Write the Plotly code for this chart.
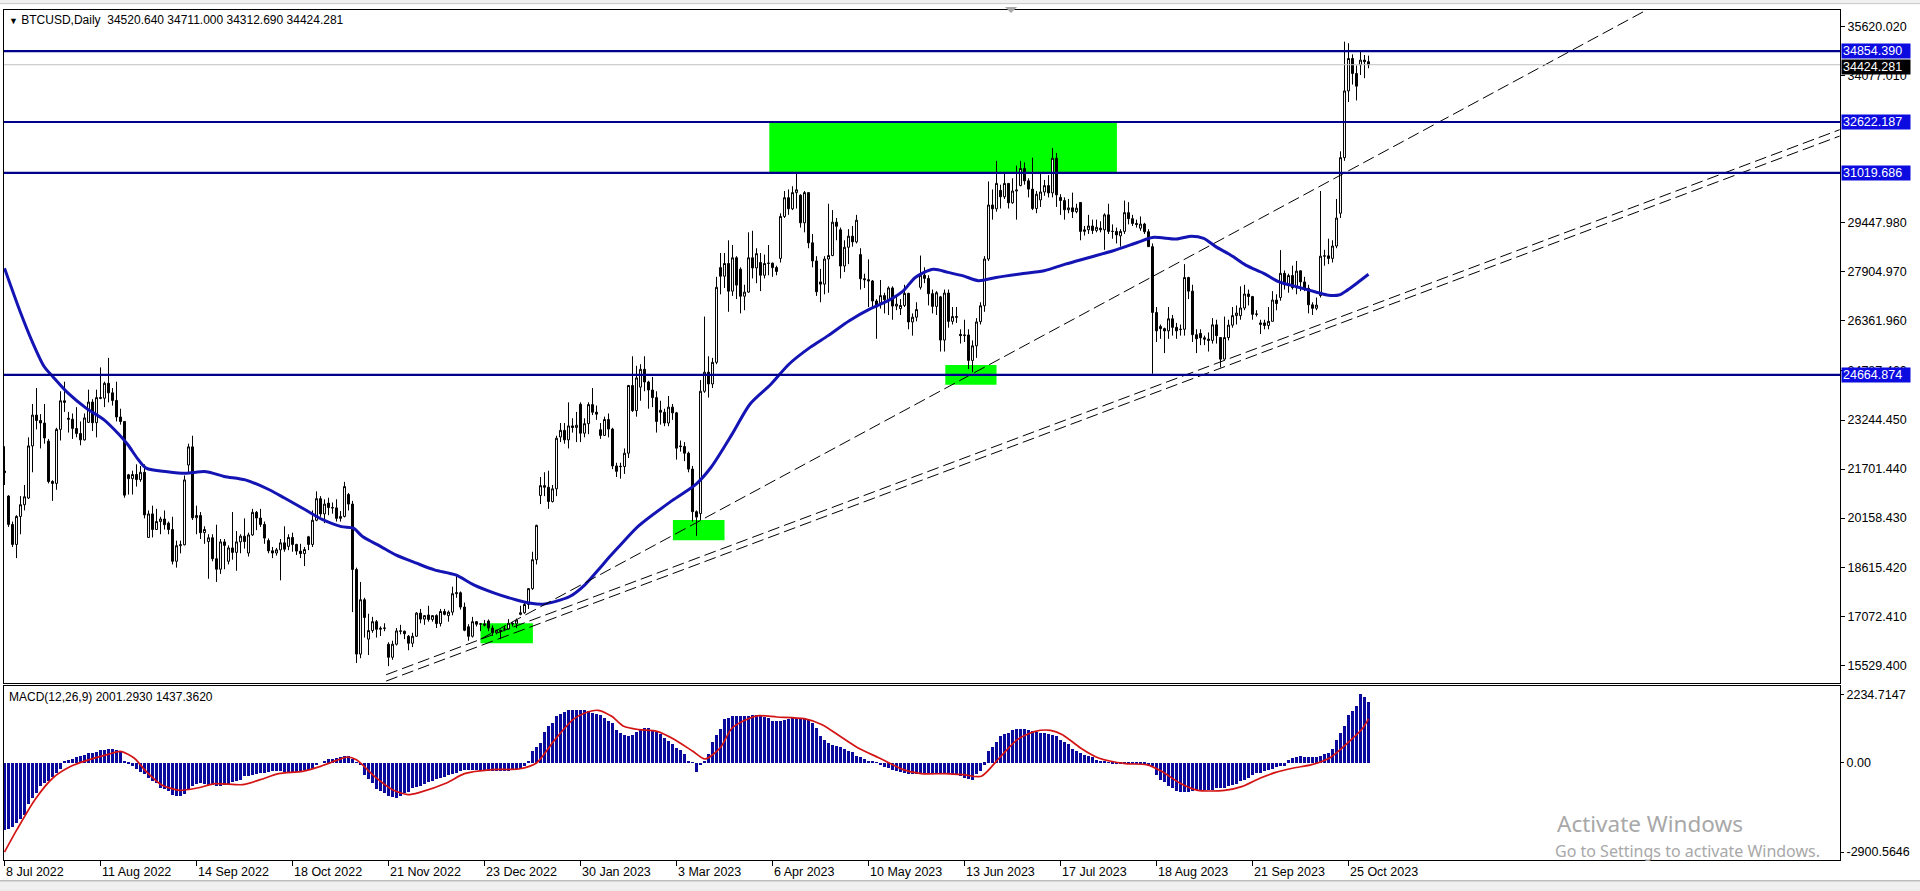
import plotly.graph_objects as go

# ---------------- data (one bar per trading weekday) ----------------
tick_bars = [0, 24, 48, 72, 96, 120, 144, 168, 192, 216, 240, 264, 288, 312, 336]
tick_labels = ["8 Jul 2022", "11 Aug 2022", "14 Sep 2022", "18 Oct 2022", "21 Nov 2022",
               "23 Dec 2022", "30 Jan 2023", "3 Mar 2023", "6 Apr 2023", "10 May 2023",
               "13 Jun 2023", "17 Jul 2023", "18 Aug 2023", "21 Sep 2023", "25 Oct 2023"]

opens = [
    21640,
    20850,19960,19330,20210,20580, 20790,22430,23400,23230,23150, 22580,21310,21250,22950,23850,
    23300,23270,22980,22820,22620, 23170,23810,23160,23950,23930, 24400,24100,23860,23340,23200,
    21520,21400,21530,21370,21600, 19550,20290,19800,20050,20130, 20000,19800,18800,19290,19320,
    21830,22400,20170,20240,19700, 19420,19540,18880,18550,19410, 18800,19220,19080,19410,19590,
    19060,19630,20340,20160,19960, 19450,19130,19060,19160,19380, 19270,19550,19330,19120,19040,
    19570,19330,20090,20770,20290, 20630,20490,20480,20150,20210, 20900,20600,18540,15880,17590,
    16350,16620,16900,16660,16690, 16190,15780,16190,16610,16600, 16440,16220,16440,17170,16980,
    17110,16970,17090,16840,17220, 17090,17200,17780,17810,17360, 16740,16440,16900,16820,16830,
    16920,16700,16550,16630, 16670,16670,16850,16830, 17130,17180,17440,17940,18850,
    20870,21180,21130,20680,21080, 22710,22920,22620,23060,23010, 23740,22830,23130,23730,23490,
    22940,22760,23260,22960,21800, 21790,21780,22200,24330,23540, 24280,24840,24440,24190,23950,
    23550,23490,23150,23650,23470, 22430,22410,22200,21700,20360, 20300,24150,24750,24380,25060,
    28040,27770,28170,27300,28350, 27990,27140,27270,28350,28030, 28200,27800,28170,28180,28040,
    28330,29650,30240,29890,30400, 30320,29450,30400,28820,28250, 27590,27520,28310,28420,29470,
    29230,28090,28680,29030,28850, 28450,27690,27660,27620,26990, 26930,27160,27030,27400,26830,
    26750,26850,27230,26330,26480, 27420,27800,27700,27220,26820, 27120,25760,27240,26350,26500,
    25940,25900,25920,25120,25580, 26340,26840,28310,30010,29890, 30470,30270,30690,30080,30450,
    30620,31160,30770,30510,29900, 30170,30420,30620,30390,31480, 30250,30150,29860,29920,29800,
    30090,29180,29230,29350,29210, 29280,29230,29700,29180,29180, 29040,29180,29770,29580,29430,
    29280,29410,29170,28700,26630, 26190,26120,26050,26430,26160, 26090,26100,27730,27300,25930,
    25970,25830,25790,25750,26240, 25840,25160,25840,26230,26530, 26530,26770,27210,27130,26570,
    26250,26300,26220,26350,27020, 27100,27860,27500,27790,27410, 27940,27590,27390,26870,26760,
    27160,28400,28410,28330,28720, 29750,31500,33600,34620,34150, 34420,34570,34520.64]

highs = [
    22420,
    20880,20050,20250,20850,21200, 22700,23750,24250,23430,23750, 22650,21350,23000,24150,24450,
    23500,23450,23650,23200,23450, 24200,23900,24200,24900,24450, 25200,24250,24450,23600,23200,
    21550,21650,21850,21800,21850, 20400,20550,20450,20200,20400, 20050,20200,19450,19450,21500,
    22500,22750,20550,20350,19900, 19650,19650,19950,19500,19500, 19300,20350,19750,19650,20150,
    19700,20450,20380,20450,20050, 19520,19250,19220,19500,19900, 19650,19700,19350,19350,19250,
    19600,20400,21000,20850,20750, 20800,20650,20750,20380,21300, 20950,20700,18600,18150,17650,
    17150,17050,16950,16750,16850, 16250,16300,16700,16800,16620, 16480,16550,17200,17300,17100,
    17400,17100,17130,17300,17300, 17250,18000,18400,17850,17500, 16820,17050,16920,16860,16950,
    16970,16780,16650,16650, 16770,16980,16880,17000, 17400,17500,17950,19100,19950,
    21450,21600,21650,21200,22750, 23150,23150,23800,23300,23500, 23800,23300,23800,24250,23700,
    23150,23350,23450,23000,21900, 21900,22350,24350,25250,24950, 25000,25250,24480,24600,24150,
    23850,23600,24000,23750,23500, 22600,22550,22250,21800,20400, 24500,26500,25250,25200,27750,
    28500,28500,28900,28750,28400, 28050,27500,29150,29200,28650, 28500,28450,28750,28200,28100,
    29750,30450,30500,30600,31000, 30350,30450,30400,29100,28400, 28000,28400,30050,29850,29600,
    29300,28900,29250,29350,29700, 28650,27850,28300,27650,27050, 27650,27250,27450,27450,27150,
    27050,27500,27250,26600,26950, 28420,28050,27800,27350,27300, 27150,27350,27350,26800,26800,
    26100,26400,26100,25750,26450, 26950,28400,30750,30500,31400, 30650,31000,30700,30850,31250,
    31400,31350,30850,31500,30450, 31050,30800,30950,31800,31650, 30350,30250,30200,30400,30050,
    30100,29350,29700,29550,29550, 29500,29750,30050,29400,29300, 29250,30150,30100,29700,29550,
    29650,29450,29250,28800,26800, 26250,26150,26800,26550,26300, 26250,28150,27750,27500,26100,
    26100,25900,26000,26450,26400, 25850,26500,26400,26800,26850, 27450,27500,27350,27150,26700,
    26400,26400,26800,27300,27200, 28590,27950,27850,28100,28250, 27950,27750,27500,26950,27100,
    30450,28600,28950,28900,30200, 31700,35150,35100,34750,34400, 34830,34730,34711.0]

lows = [
    21200,
    19880,19250,18900,19650,20400, 20760,21600,22950,22350,22500, 21250,20700,21050,22600,23500,
    22850,22650,22700,22450,22600, 23150,22900,22700,23900,23650, 23800,23700,23200,23100,20800,
    20900,20900,21150,21300,20150, 19550,19550,19800,19650,19800, 19650,18700,18600,19050,19300,
    21600,20100,19650,19500,19350, 18250,18800,18150,18400,18550, 18700,18850,18500,19050,19200,
    18950,19600,19780,19880,19350, 19050,18900,18980,18200,19100, 19150,19100,19000,18900,18650,
    19150,19250,20060,20200,20000, 20250,20300,20050,20050,20180, 20400,17200,15600,15750,16400,
    15850,16550,16400,16450,16600, 15500,15700,16150,16500,16350, 16000,16100,16430,16850,16800,
    16900,16900,16700,16750,17100, 16900,17100,17650,17280,16600, 16300,16400,16750,16600,16750,
    16600,16450,16500,16350, 16600,16650,16750,16700, 17100,17150,17300,17900,18700,
    20600,20850,20450,20650,20850, 22550,22500,22350,22850,22550, 22550,22700,22800,23400,23250,
    22650,22750,22700,21700,21450, 21400,21550,22050,23500,23350, 23850,24150,23600,23650,22850,
    23100,23050,23050,23250,22000, 22250,21950,21600,20050,19600, 20100,24100,23950,24250,25000,
    27200,27400,26650,27150,27050, 26600,26700,27250,27700,27550, 27300,27700,27800,27750,27800,
    28200,29600,29700,29850,29900, 29300,29150,28650,28050,27150, 26950,27200,27250,28400,28900,
    27700,27900,28150,28700,28800, 27350,27400,26800,26750,25800, 26750,26600,26550,26400,26700,
    26550,26800,26100,25900,26350, 27350,27550,26850,26600,26550, 25400,25400,26150,26250,26300,
    25650,25700,24850,24750,25200, 26250,26650,28250,29550,29800, 29900,30200,29900,30050,29550,
    30600,30650,30250,29850,29750, 29950,30300,30250,30250,29950, 29700,29550,29750,29600,29750,
    28900,29050,29100,29100,29150, 29150,28600,29100,28950,28800, 28700,29100,29400,29350,29300,
    29200,29100,28700,24700,25700, 25800,25350,25800,25900,25800, 25900,25900,27050,25700,25350,
    25600,25600,25400,25650,25650, 24900,25150,25750,26150,26250, 26400,26700,26850,26400,26500,
    25950,26100,26100,26350,26700, 27000,27350,27250,27350,27200, 27300,27300,26600,26550,26700,
    27100,28100,28150,28200,28650, 29600,31400,33250,33800,33300, 34100,34000,34312.69]

closes = [
    21590,
    19960,19330,20210,20580,20830, 22430,23400,23230,23150,22680, 21310,21250,22950,23850,23800,
    23270,22980,22820,22620,23310, 23810,23160,23950,23930,24400, 24100,23860,23340,23200,20880,
    21400,21530,21370,21600,20260, 20290,19800,20050,20130,19950, 19800,18800,19290,19320,21360,
    22400,20170,20240,19700,19800, 19540,18880,18550,19410,19300, 19220,19080,19410,19590,19420,
    19630,20340,20160,19960,19530, 19130,19060,19160,19380,19180, 19550,19330,19120,19040,19170,
    19330,20090,20770,20290,20600, 20490,20480,20150,20210,21150, 20600,18540,15880,17590,17030,
    16620,16900,16660,16690,16700, 15780,16190,16610,16600,16520, 16220,16440,17170,16980,17090,
    16970,17090,16840,17220,17130, 17200,17780,17810,17360,16630, 16440,16900,16820,16830,16790,
    16700,16550,16630,16600, 16670,16850,16830,16950, 17180,17440,17940,18850,19930,
    21180,21130,20680,21080,22670, 22920,22620,23060,23010,23080, 22830,23130,23730,23490,23430,
    22760,23260,22960,21800,21630, 21780,22200,24330,23540,24570, 24840,24440,24190,23950,23200,
    23490,23150,23650,23470,22360, 22410,22200,21700,20360,20190, 24150,24750,24380,25060,27420,
    27770,28170,27300,28350,27490, 27140,27270,28350,28030,28480, 27800,28170,28180,28040,27920,
    29650,30240,29890,30400,30490, 29450,30400,28820,28250,27280, 27520,28310,28420,29470,29340,
    28090,28680,29030,28850,29530, 27690,27660,27620,26990,26800, 27160,27030,27400,26830,26890,
    26850,27230,26330,26480,26720, 27800,27700,27220,26820,27250, 25760,27240,26350,26500,26480,
    25900,25920,25120,25580,26330, 26840,28310,30010,29890,30690, 30270,30690,30080,30450,30480,
    31160,30770,30510,29900,30350, 30420,30620,30390,31480,30330, 30150,29860,29920,29800,29910,
    29180,29230,29350,29210,29310, 29230,29700,29180,29180,29070, 29180,29770,29580,29430,29400,
    29410,29170,28700,26630,26050, 26120,26050,26430,26160,26050, 26100,27730,27300,25930,25800,
    25830,25790,25750,26240,25900, 25160,25840,26230,26530,26610, 26770,27210,27130,26570,26580,
    26300,26220,26350,27020,26910, 27860,27500,27790,27410,27930, 27590,27390,26870,26760,26860,
    28400,28410,28330,28720,29600, 31500,33600,34620,34150,33750, 34570,34520,34424.281]

# moving average (blue line), read at sample bars
ma_bars = [0,3.9,6.9,9.9,12.1,15.9,20.4,24.9,28.7,30.9,33.2,35.4,40.7,45.2,50.4,54.9,60.2,66.2,
           70,75.2,79.7,84.2,87.2,89.5,94,97.8,103,107.5,112.8,117.3,122.5,127.8,131.6,134.6,
           137.6,141.3,145.1,148.8,151.1,154.1,158.6,166.8,172.9,176.6,181.9,186.4,191.6,196.1,
           201.4,205.9,211.2,216.4,220.9,224.7,227.7,232.2,235.9,239.7,243.5,247.9,253.9,259.9,
           265.2,271.2,277.2,283.2,287,293,296.8,299.8,302.8,306.5,310.3,314.8,318.5,323,327.6,
           330.6,333.6,335.8,338.1,341]
ma_vals = [28020,26660,25720,24930,24610,24090,23620,23250,22780,22460,22040,21730,21620,21570,
           21620,21470,21360,21050,20790,20420,20100,19890,19840,19580,19270,19000,18740,18530,
           18370,18060,17800,17590,17480,17450,17530,17690,18060,18580,18920,19330,19920,20700,
           21230,21750,22800,23750,24370,25000,25530,25900,26370,26740,27000,27310,27730,27990,
           27890,27780,27630,27730,27840,27940,28150,28360,28570,28830,28990,28940,29030,28960,
           28700,28440,28120,27860,27600,27440,27280,27180,27180,27340,27550,27830]

# MACD main (histogram), one value per bar
macd = [
    -2170,-2140,-2100,-1950,-1820,-1700,-1330,-1150,-980,-740,-660,-590,-450,-330,-200,40,110,130,
    190,220,260,310,325,350,410,430,445,450,420,380,50,-40,-100,-210,-280,-360,-500,-580,-650,
    -800,-860,-920,-1030,-1060,-1080,-1000,-880,-760,-670,-650,-670,-706,-730,-750,-740,-720,-706,
    -630,-597,-540,-434,-420,-400,-360,-340,-326,-290,-272,-272,-272,-285,-295,-295,-285,-272,
    -230,-217,-180,-70,0,80,125,145,163,200,217,220,140,20,-80,-380,-520,-640,-850,-920,-980,
    -1070,-1110,-1140,-1060,-990,-930,-820,-780,-740,-670,-630,-597,-525,-489,-450,-380,-345,-310,
    -255,-235,-217,-225,-235,-245,-240,-250,-260,-272,-272,-272,-245,-225,-200,-163,-100,40,
    380,520,652,1020,1195,1300,1520,1600,1670,1730,1738,1740,1720,1716,1690,1629,1590,1550,
    1450,1380,1303,1080,977,920,869,920,1000,1100,1130,1140,1050,1000,950,820,720,620,
    490,410,300,60,30,-300,-80,80,300,680,900,1100,1420,1480,1520,1540,1542,1542,
    1545,1560,1570,1540,1500,1466,1380,1358,1370,1412,1430,1450,1466,1466,1466,1420,1300,1150,
    870,760,660,580,550,520,440,400,350,230,180,140,80,60,20,-70,-120,-160,
    -240,-270,-300,-335,-348,-348,-348,-340,-335,-326,-326,-326,-340,-348,-348,-360,-380,-413,
    -480,-520,-543,-350,-272,-50,380,530,680,870,930,977,1080,1108,1110,1108,1080,1055,
    1010,990,977,940,923,870,760,690,615,470,400,326,250,217,180,109,80,50,
    5,-10,-22,-22,-22,-22,-22,-22,-22,-60,-90,-109,-400,-543,-620,-760,-830,-900,
    -960,-956,-940,-900,-891,-891,-885,-880,-869,-830,-815,-800,-760,-725,-690,-600,-545,-489,
    -380,-326,-310,-272,-240,-200,-130,-100,-87,90,163,180,217,210,200,200,210,217,
    290,326,450,760,980,1200,1560,1700,1846,2234.7147,2150,2001.293]

# MACD signal (red line), read at sample bars
sig_bars = [0,3.1,7.6,12.1,16.6,21.2,25.7,29,32.4,35.4,39.2,43.7,48.2,52.7,59.5,64,68.5,74.5,79,
            83.5,85.7,88,92.5,97,100.8,103.8,110.5,115,121.8,128.5,133,137.6,142.1,145.1,148.4,
            151.8,154.8,158.6,163.1,167.6,172.1,175.1,178.9,181.9,186.4,188.6,193.1,199.9,204.4,
            208.9,213.4,218.7,224.7,229.2,235.2,239.7,244.2,248.7,253.2,257.7,261.5,264.5,269,
            273.5,280.3,285.5,289.3,293.8,298.3,305,309.5,314,317.8,322.3,326.8,331.3,335.8,
            339.6,341]
sig_vals = [-2900,-2172,-1195,-489,-109,109,272,380,163,-272,-706,-891,-815,-673,-706,-543,-348,-272,
            -109,109,195,109,-434,-869,-1032,-956,-652,-348,-217,-195,0,760,1412,1629,1716,1520,1195,
            1086,1032,760,380,130,489,1140,1466,1542,1499,1444,1249,869,489,163,-217,-348,-348,-380,
            -434,163,760,1032,1064,923,489,163,-22,-54,-272,-652,-891,-891,-760,-489,-304,-163,-54,
            163,652,1140,1437.362]

# horizontal levels, current price, highlighted zones and trend lines (price / bar units)
levels = [34854.390, 32622.187, 31019.686, 24664.874]
last_price = 34424.281
zones = [(191.2, 278.1, 31019.686, 32622.187),
         (235.2, 248.0, 24353, 24973),
         (167.1, 180.0, 19465, 20095),
         (119.0, 132.1, 16223, 16852)]
trend_lines = [((119.0, 16350), (420.7, 36837)),
               ((95.4, 15230), (458.8, 32380)),
               ((95.4, 15030), (458.8, 32180))]

price_ticks = [35620.020, 34077.010, 29447.980, 27904.970, 26361.960, 24787.460,
               23244.450, 21701.440, 20158.430, 18615.420, 17072.410, 15529.400]
macd_ticks = [2234.7147, 0.0, -2900.5646]
macd_tick_text = ["2234.7147", "0.00", "-2900.5646"]

header = "BTCUSD,Daily\u00a0\u00a034520.640 34711.000 34312.690 34424.281"
macd_header = "MACD(12,26,9) 2001.2930 1437.3620"

# ---------------- figure ----------------
FONT = "Liberation Sans, Arial, sans-serif"
xs = list(range(len(closes)))
XR = [-0.125, 458.875]   # 4 px per bar across the 1836 px plot width

fig = go.Figure()

fig.add_trace(go.Candlestick(
    x=xs, open=opens, high=highs, low=lows, close=closes,
    increasing=dict(line=dict(color="black", width=1), fillcolor="white"),
    decreasing=dict(line=dict(color="black", width=1), fillcolor="black"),
    whiskerwidth=0, hoverinfo="skip", showlegend=False, xaxis="x", yaxis="y"))

fig.add_trace(go.Scatter(x=ma_bars, y=ma_vals, mode="lines",
                         line=dict(color="#1414B4", width=3, shape="spline", smoothing=0.8),
                         hoverinfo="skip", showlegend=False, xaxis="x", yaxis="y"))

for (x0, y0), (x1, y1) in trend_lines:
    fig.add_trace(go.Scatter(x=[x0, x1], y=[y0, y1], mode="lines",
                             line=dict(color="black", width=1, dash="12px,5px"),
                             hoverinfo="skip", showlegend=False, xaxis="x", yaxis="y"))

fig.add_trace(go.Bar(x=xs, y=macd, width=0.75,
                     marker=dict(color="#0A0A9C", line=dict(width=0)),
                     hoverinfo="skip", showlegend=False, xaxis="x2", yaxis="y2"))
fig.add_trace(go.Scatter(x=sig_bars, y=sig_vals, mode="lines",
                         line=dict(color="#D41414", width=1.7, shape="spline", smoothing=0.7),
                         hoverinfo="skip", showlegend=False, xaxis="x2", yaxis="y2"))

shapes = []
for b0, b1, p0, p1 in zones:
    shapes.append(dict(type="rect", xref="x", yref="y", x0=b0, x1=b1, y0=p0, y1=p1,
                       fillcolor="#00FF00", line=dict(width=0), layer="below"))
for lv in levels:
    shapes.append(dict(type="line", xref="paper", yref="y", x0=0, x1=1, y0=lv, y1=lv,
                       line=dict(color="#00008C", width=2.2)))
shapes.append(dict(type="line", xref="paper", yref="y", x0=0, x1=1, y0=last_price, y1=last_price,
                   line=dict(color="#C0C0C0", width=1)))
# window frame strips (top edge and bottom tab bar) and the chart-shift marker
shapes.append(dict(type="rect", xref="paper", yref="paper", x0=-0.01, x1=1.05, y0=-0.037, y1=-0.0245,
                   fillcolor="#F0F0F0", line=dict(color="#A0A0A0", width=1), layer="below"))
shapes.append(dict(type="rect", xref="paper", yref="paper", x0=-0.01, x1=1.05, y0=1.0075, y1=1.013,
                   fillcolor="#F0F0F0", line=dict(color="#C8C8C8", width=1), layer="below"))
shapes.append(dict(type="path", xref="paper", yref="paper",
                   path="M 0.5452 1.0035 L 0.5518 1.0035 L 0.5485 0.9965 Z",
                   fillcolor="#A8A8A8", line=dict(width=0)))

annotations = []
for b, t in zip(tick_bars, tick_labels):
    annotations.append(dict(x=b, xref="x2", y=0, yref="paper", text=t, showarrow=False,
                            xanchor="left", yanchor="top", yshift=-3, xshift=-1,
                            font=dict(family=FONT, size=12.5, color="black")))
for lv in levels:
    annotations.append(dict(x=1, xref="paper", y=lv, yref="y", text=f"{lv:.3f}", showarrow=False,
                            xanchor="left", yanchor="middle", xshift=1, width=66, height=12,
                            align="left", bgcolor="#0C0CE0", borderpad=1,
                            font=dict(family=FONT, size=12.5, color="white")))
annotations.append(dict(x=1, xref="paper", y=last_price, yref="y", text=f"{last_price:.3f}",
                        showarrow=False, xanchor="left", yanchor="middle", xshift=1, yshift=-2,
                        width=66, height=12, align="left", bgcolor="black", borderpad=1,
                        font=dict(family=FONT, size=12.5, color="white")))
annotations.append(dict(x=0, xref="paper", y=1, yref="paper",
                        text="<span style='font-size:9px'>\u25BC</span> " + header,
                        showarrow=False, xanchor="left", yanchor="top", xshift=3, yshift=-1,
                        font=dict(family=FONT, size=12, color="black")))
annotations.append(dict(x=0, xref="paper", y=0.2047, yref="paper", text=macd_header,
                        showarrow=False, xanchor="left", yanchor="top", xshift=3, yshift=-2,
                        font=dict(family=FONT, size=12, color="black")))
annotations.append(dict(x=0.8448, xref="paper", y=0.0435, yref="paper", text="Activate Windows",
                        showarrow=False, xanchor="left", yanchor="middle",
                        font=dict(family="Noto Sans, Open Sans, sans-serif", size=22.5, color="#A8A8A8")))
annotations.append(dict(x=0.8437, xref="paper", y=0.0106, yref="paper",
                        text="Go to Settings to activate Windows.",
                        showarrow=False, xanchor="left", yanchor="middle",
                        font=dict(family="Noto Sans, Open Sans, sans-serif", size=16, color="#A8A8A8")))

axis_common = dict(showgrid=False, zeroline=False, showline=True, mirror=True,
                   linecolor="black", linewidth=1, fixedrange=True)

fig.update_layout(
    width=1920, height=891, autosize=False,
    margin=dict(l=4, r=80, t=10, b=31),
    paper_bgcolor="white", plot_bgcolor="white",
    font=dict(family=FONT, size=12, color="black"),
    showlegend=False, bargap=0, hovermode=False,
    xaxis=dict(domain=[0, 1], anchor="y", range=XR, showticklabels=False, ticks="",
               rangeslider=dict(visible=False), **axis_common),
    xaxis2=dict(domain=[0, 1], anchor="y2", matches="x", range=XR, tickmode="array",
                tickvals=tick_bars, ticks="outside", ticklen=5, tickcolor="black",
                showticklabels=False, **axis_common),
    yaxis=dict(domain=[0.2082, 1], anchor="x", side="right", range=[14969, 36146],
               tickmode="array", tickvals=price_ticks,
               ticktext=[f"{v:.3f}" for v in price_ticks],
               ticks="outside", ticklen=4, tickcolor="black",
               tickfont=dict(family=FONT, size=12.5), **axis_common),
    yaxis2=dict(domain=[0, 0.2047], anchor="x2", side="right", range=[-3160, 2508],
                tickmode="array", tickvals=macd_ticks, ticktext=macd_tick_text,
                ticks="outside", ticklen=3, tickcolor="black",
                tickfont=dict(family=FONT, size=12.5), **axis_common),
    shapes=shapes, annotations=annotations,
)

# the page's default 8px body margin would offset the whole chart; remove it
fig.write_html("out.html", config={"displayModeBar": False},
               post_script="document.body.style.margin='0px';")
